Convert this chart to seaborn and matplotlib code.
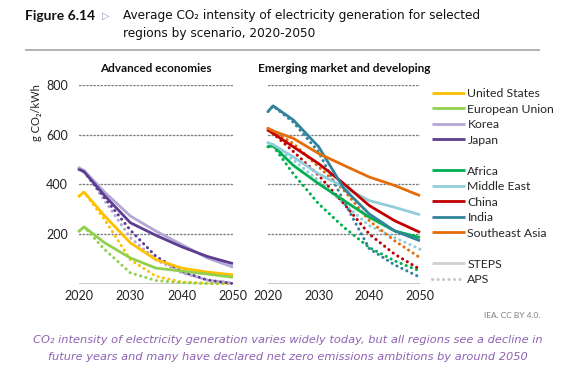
import matplotlib
matplotlib.use("Agg")
import matplotlib.pyplot as plt
from matplotlib.lines import Line2D
import seaborn as sns
import pandas as pd

# ---- data (g CO2/kWh) ----
years = [2020, 2021, 2025, 2030, 2035, 2040, 2045, 2050]
scenarios = ["STEPS", "APS"]

advanced_regions = ["United States", "European Union", "Korea", "Japan"]
emerging_regions = ["Africa", "Middle East", "China", "India", "Southeast Asia"]

us_steps = [352, 368, 272, 164, 96, 62, 46, 35]
us_aps = [352, 368, 258, 96, 29, 6, 1, 0]
eu_steps = [211, 228, 164, 103, 62, 50, 38, 25]
eu_aps = [211, 228, 137, 43, 12, 3, 0, 0]
korea_steps = [466, 455, 368, 272, 211, 157, 103, 66]
korea_aps = [466, 455, 334, 185, 96, 43, 14, 3]
japan_steps = [460, 450, 354, 245, 194, 148, 109, 80]
japan_aps = [460, 450, 345, 215, 109, 48, 14, 0]

africa_steps = [551, 555, 476, 402, 334, 267, 212, 185]
africa_aps = [551, 555, 442, 321, 226, 145, 91, 50]
mideast_steps = [567, 560, 510, 442, 388, 334, 307, 277]
mideast_aps = [567, 560, 497, 415, 321, 233, 185, 138]
china_steps = [618, 605, 551, 483, 402, 314, 253, 206]
china_aps = [618, 605, 532, 436, 321, 199, 118, 57]
india_steps = [693, 716, 659, 551, 382, 280, 212, 172]
india_aps = [693, 716, 650, 530, 330, 140, 75, 25]
sea_steps = [625, 615, 585, 524, 476, 429, 395, 354]
sea_aps = [625, 615, 564, 470, 375, 253, 172, 104]

y_ticks = [200, 400, 600, 800]
x_ticks = [2020, 2030, 2040, 2050]

palette = {
    "United States": "#FFC000",
    "European Union": "#92D050",
    "Korea": "#B4A7D6",
    "Japan": "#5C3D8F",
    "Africa": "#00B050",
    "Middle East": "#92CDDC",
    "China": "#C00000",
    "India": "#31849B",
    "Southeast Asia": "#E46C0A",
}

series = {
    ("United States", "STEPS"): us_steps, ("United States", "APS"): us_aps,
    ("European Union", "STEPS"): eu_steps, ("European Union", "APS"): eu_aps,
    ("Korea", "STEPS"): korea_steps, ("Korea", "APS"): korea_aps,
    ("Japan", "STEPS"): japan_steps, ("Japan", "APS"): japan_aps,
    ("Africa", "STEPS"): africa_steps, ("Africa", "APS"): africa_aps,
    ("Middle East", "STEPS"): mideast_steps, ("Middle East", "APS"): mideast_aps,
    ("China", "STEPS"): china_steps, ("China", "APS"): china_aps,
    ("India", "STEPS"): india_steps, ("India", "APS"): india_aps,
    ("Southeast Asia", "STEPS"): sea_steps, ("Southeast Asia", "APS"): sea_aps,
}

rows = []
for (region, scen), vals in series.items():
    for yr, v in zip(years, vals):
        rows.append({"region": region, "scenario": scen, "year": yr, "value": v})
df = pd.DataFrame(rows)

sns.set_theme(style="white")
plt.rcParams["font.family"] = ["Lato", "DejaVu Sans"]
plt.rcParams["lines.dash_capstyle"] = "round"
plt.rcParams["lines.solid_capstyle"] = "butt"

W, H = 563, 368
fig = plt.figure(figsize=(W / 100, H / 100), dpi=100)


def box(x0, x1, ytop, ybot):
    return [x0 / W, 1 - ybot / H, (x1 - x0) / W, (ybot - ytop) / H]


ax_l = fig.add_axes(box(79, 233, 85, 283.5))
ax_r = fig.add_axes(box(268, 420, 85, 283.5))

dot = (0.05, 1.75)
dashes = {"STEPS": "", "APS": dot}

for ax, regs, title in [
    (ax_l, advanced_regions, "Advanced economies"),
    (ax_r, emerging_regions, "Emerging market and developing"),
]:
    sub = df[df["region"].isin(regs)]
    # dotted APS under solid STEPS
    for scen, lw in [("APS", 2.2), ("STEPS", 2.0)]:
        part = sub[sub["scenario"] == scen]
        sns.lineplot(
            data=part, x="year", y="value", hue="region", hue_order=regs,
            style="scenario", dashes=dashes, palette=palette,
            linewidth=lw, legend=False, ax=ax, clip_on=False,
        )
    ax.set_xlim(2020, 2050)
    ax.set_ylim(0, 800)
    for yv in y_ticks:
        ax.axhline(yv, color="#7F7F7F", lw=1.0, ls=(0, (1, 1.6)), zorder=0)
    ax.axhline(0, color="#BFBFBF", lw=1.2, zorder=0)
    for s in ax.spines.values():
        s.set_visible(False)
    ax.set_xticks(x_ticks)
    ax.set_xticklabels([str(t) for t in x_ticks], fontsize=9)
    ax.set_yticks(y_ticks)
    ax.tick_params(axis="both", length=0, pad=5, colors="#222222")
    ax.set_xlabel("")
    ax.set_ylabel("")
    ax.set_title(title, fontsize=8.5, fontweight="bold", pad=9, color="#111111")

ax_l.set_yticklabels([str(t) for t in y_ticks], fontsize=9)
ax_l.tick_params(axis="y", pad=8)
ax_r.set_yticklabels([])

fig.text(37 / W, 1 - 113 / H, "g CO₂/kWh", rotation=90, ha="center", va="center",
         fontsize=8, color="#222222")

# legend: regions, a gap, regions, a gap, scenarios
handles, labels, spacer_idx = [], [], []
for r in advanced_regions:
    handles.append(Line2D([], [], color=palette[r], lw=2.0))
    labels.append(r)
spacer_idx.append(len(labels))
handles.append(Line2D([], [], color="none"))
labels.append("Xg")
for r in emerging_regions:
    handles.append(Line2D([], [], color=palette[r], lw=2.0))
    labels.append(r)
spacer_idx.append(len(labels))
handles.append(Line2D([], [], color="none"))
labels.append("Xg")
handles.append(Line2D([], [], color="#D0D0D0", lw=2.0))
labels.append("STEPS")
handles.append(Line2D([], [], color="#C8C8C8", lw=2.2, ls=(0, dot),
                      dash_capstyle="round"))
labels.append("APS")
leg = fig.legend(handles, labels, loc="upper left", bbox_to_anchor=(432 / W, 1 - 88 / H),
                 frameon=False, fontsize=8.8, handlelength=2.7, handletextpad=0.2,
                 labelspacing=0.37, borderpad=0, borderaxespad=0)
for i in spacer_idx:
    leg.get_texts()[i].set_color("none")

# header
fig.text(25 / W, 1 - 16 / H, "Figure 6.14", fontsize=10, fontweight="bold",
         va="center", ha="left", color="#111111")
fig.text(102 / W, 1 - 16 / H, "▷", fontsize=7, family=["DejaVu Sans"],
         va="center", ha="left", color="#9E8FB8")
fig.text(123 / W, 1 - 15 / H,
         "Average CO₂ intensity of electricity generation for selected",
         fontsize=8.7, family=["DejaVu Sans"], va="center", ha="left", color="#111111")
fig.text(123 / W, 1 - 34 / H, "regions by scenario, 2020-2050",
         fontsize=8.7, family=["DejaVu Sans"], va="center", ha="left", color="#111111")
fig.add_artist(Line2D([25 / W, 540 / W], [1 - 50 / H, 1 - 50 / H],
                      color="#A6A6A6", lw=1.2))

fig.text(540 / W, 1 - 316 / H, "IEA. CC BY 4.0.", fontsize=6, ha="right",
         va="center", color="#7F7F7F")

cap_color = "#8E62B3"
fig.text(288 / W, 1 - 340 / H,
         "CO₂ intensity of electricity generation varies widely today, but all regions see a decline in",
         fontsize=8.2, style="italic", family=["DejaVu Sans"], ha="center", va="center",
         color=cap_color)
fig.text(288 / W, 1 - 357 / H,
         "future years and many have declared net zero emissions ambitions by around 2050",
         fontsize=8.2, style="italic", family=["DejaVu Sans"], ha="center", va="center",
         color=cap_color)

fig.savefig("out.png", dpi=100)
